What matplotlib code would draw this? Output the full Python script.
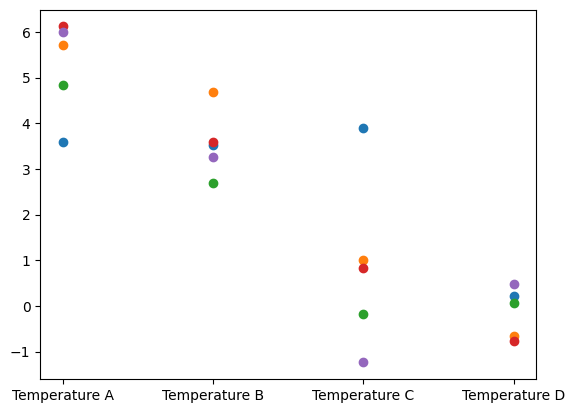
import matplotlib
matplotlib.use("Agg")
import matplotlib.pyplot as plt

categories = ["Temperature A", "Temperature B", "Temperature C", "Temperature D"]
series_1 = [3.59, 3.52, 3.90, 0.22]
series_2 = [5.72, 4.69, 1.01, -0.66]
series_3 = [4.83, 2.69, -0.18, 0.06]
series_4 = [6.12, 3.58, 0.83, -0.77]
series_5 = [6.00, 3.26, -1.24, 0.48]

fig, ax = plt.subplots(figsize=(6.4, 4.8), dpi=100)
for s in [series_1, series_2, series_3, series_4, series_5]:
    ax.scatter(categories, s)
fig.savefig("out.png", bbox_inches="tight")
